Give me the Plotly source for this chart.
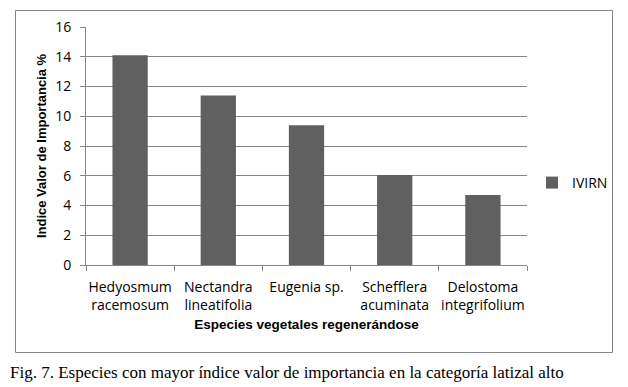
import plotly.graph_objects as go

categories = ["Hedyosmum<br>racemosum", "Nectandra<br>lineatifolia", "Eugenia sp.",
              "Schefflera<br>acuminata", "Delostoma<br>integrifolium"]
values = [14.1, 11.4, 9.4, 6.05, 4.7]
series_name = "IVIRN"
y_ticks = [0, 2, 4, 6, 8, 10, 12, 14, 16]

# page body has an 8px margin; work in reference pixels and shift
OFF = 8
W, H = 628 - OFF, 387 - OFF
L, R, T, B = 86 - OFF, 527 - OFF, 27 - OFF, 265 - OFF

def px_x(x):
    return (x - OFF - L) / (R - L)

def px_y(y):
    return (B - (y - OFF)) / (B - T)

fig = go.Figure()
fig.add_trace(go.Bar(x=categories, y=values, name=series_name,
                     marker=dict(color="#606060", line=dict(width=0)),
                     showlegend=True))

tickfont = dict(family="Open Sans, sans-serif", size=14, color="#000")
fig.update_layout(
    width=W, height=H,
    margin=dict(l=L, r=W - R, t=T, b=H - B, autoexpand=False),
    paper_bgcolor="white", plot_bgcolor="rgba(0,0,0,0)",
    bargap=0.6,
    font=dict(family="Liberation Sans, Arial, sans-serif", size=13, color="#000"),
    showlegend=True,
    legend=dict(x=px_x(532), y=px_y(183), xanchor="left", yanchor="middle",
                font=dict(family="Open Sans, sans-serif", size=14), bgcolor="rgba(0,0,0,0)",
                itemwidth=30, tracegroupgap=0),
    xaxis=dict(showline=True, linecolor="#868686", linewidth=1, automargin=False,
               ticks="outside", tickson="boundaries", ticklen=5, tickcolor="#868686",
               showgrid=False, tickfont=tickfont, ticklabelstandoff=9, tickangle=0,
               title=dict(text="<b>Especies vegetales regenerándose</b>",
                          font=dict(size=13.5), standoff=6)),
    yaxis=dict(range=[0, 16], tickvals=y_ticks, showline=True, linecolor="#868686",
               linewidth=1, ticks="outside", ticklen=5, tickcolor="#868686",
               showgrid=True, gridcolor="#868686", gridwidth=1, automargin=False,
               zeroline=False, tickfont=tickfont, ticklabelstandoff=6,
               title=dict(text="<b>Indice Valor de Importancia %</b>",
                          font=dict(size=13), standoff=5)),
)

# outer chart border
fig.add_shape(type="rect", xref="paper", yref="paper",
              x0=px_x(15.5), x1=px_x(612.5), y0=px_y(352.5), y1=px_y(10.5),
              line=dict(color="#868686", width=1), fillcolor="rgba(0,0,0,0)", layer="above")

# caption
fig.add_annotation(text="Fig. 7. Especies con mayor índice valor de importancia en la categoría latizal alto",
                   xref="paper", yref="paper", x=px_x(8), y=px_y(372),
                   xanchor="left", yanchor="middle", showarrow=False,
                   font=dict(family="Liberation Serif, DejaVu Serif, serif", size=17, color="#000"))

fig.write_html("out.html")
